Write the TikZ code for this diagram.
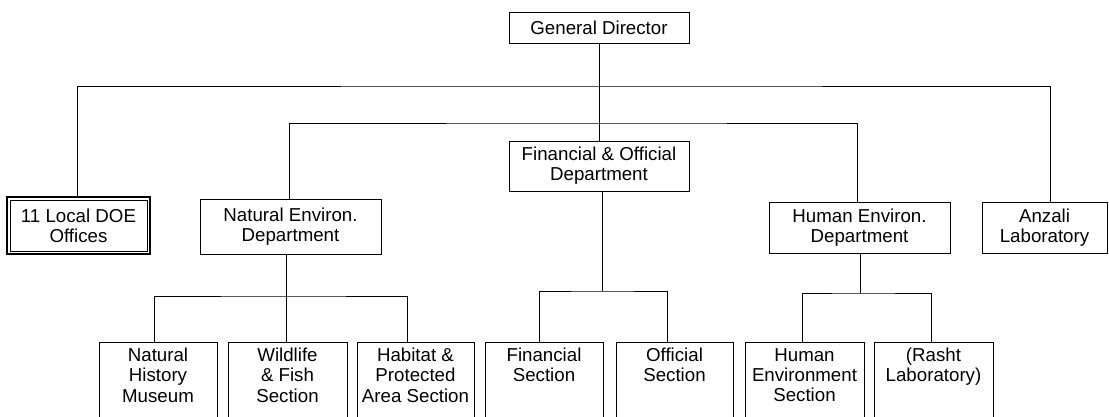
\documentclass[tikz,border=0pt]{standalone}
\usepackage{fontspec}
\setmainfont{Liberation Sans}
\newcommand\myfs{\fontsize{18.7}{20.2}\selectfont}
\tikzset{
  box/.style={draw, line width=1pt, inner sep=0pt, align=center, font=\myfs},
  botbox/.style={draw, line width=1pt, inner sep=0pt, anchor=north, minimum height=90pt},
  bottxt/.style={inner sep=0pt, anchor=north, align=center, font=\myfs, yshift=-6pt},
  conn/.style={line width=1pt}
}
\begin{document}
\begin{tikzpicture}[x=1pt,y=-1pt]
\clip (0,0) rectangle (1109,416);
\fill[white] (0,0) rectangle (1109,416);
% top level
\node[box, minimum width=180pt, minimum height=31pt] (GD) at (599,27.5) {General Director};
\node[box, minimum width=180pt, minimum height=50pt] (FO) at (599,166) {Financial \& Official\\Department};
\node[box, minimum width=181pt, minimum height=55pt] (NE) at (290.5,226.5) {Natural Environ.\\Department};
\node[box, minimum width=181pt, minimum height=51pt] (HE) at (859.5,227.5) {Human Environ.\\Department};
\node[box, minimum width=125pt, minimum height=51pt] (AZ) at (1044.5,227.5) {Anzali\\Laboratory};
\node[box, line width=2pt, minimum width=143pt, minimum height=57pt] (DOE) at (78.5,225.5) {11 Local DOE\\Offices};
\draw[line width=1pt] ([xshift=4.5pt,yshift=-4pt]DOE.north west) rectangle ([xshift=-4pt,yshift=4pt]DOE.south east);
% bottom boxes
\node[botbox, minimum width=118pt] (NHM) at (158,342) {};
\node[bottxt] (tNHM) at (NHM.north) {Natural\\History\\Museum};
\node[botbox, minimum width=119pt] (WF) at (287.5,342) {};
\node[bottxt] (tWF) at (WF.north) {Wildlife\\\& Fish\\Section};
\node[botbox, minimum width=117pt] (HP) at (415.5,342) {};
\node[bottxt] (tHP) at (HP.north) {Habitat \&\\Protected\\Area Section};
\node[botbox, minimum width=118pt] (FS) at (544,342) {};
\node[bottxt] (tFS) at (FS.north) {Financial\\Section};
\node[botbox, minimum width=117pt] (OS) at (674.5,342) {};
\node[bottxt] (tOS) at (OS.north) {Official\\Section};
\node[botbox, minimum width=119pt] (HES) at (804.5,342) {};
\node[bottxt] (tHES) at (HES.north) {Human\\Environment\\Section};
\node[botbox, minimum width=119pt] (RL) at (933.5,342) {};
\node[bottxt] (tRL) at (RL.north) {(Rasht\\Laboratory)};
% bus coordinates
\coordinate (t1) at (599,86);
\coordinate (t2) at (599,123);
\coordinate (n1) at (286,296);
\coordinate (f1) at (602,291);
\coordinate (h1) at (860,293);
% connectors
\draw[conn] (GD.south) -- (FO.north);
\draw[conn] ([xshift=-1.5pt]DOE.north) |- (t1) -| ([xshift=5.5pt]AZ.north);
\draw[conn] ([xshift=-1.5pt]NE.north) |- (t2) -| ([xshift=-2.5pt]HE.north);
\draw[conn] ([xshift=-4.5pt]NE.south) -- (n1);
\draw[conn] ([xshift=-4pt]NHM.north) |- (n1) -| ([xshift=-8.5pt]HP.north);
\draw[conn] (n1) -- ([xshift=-1.5pt]WF.north);
\draw[conn] ([xshift=3pt]FO.south) -- (f1);
\draw[conn] ([xshift=-5pt]FS.north) |- (f1) -| ([xshift=-7.5pt]OS.north);
\draw[conn] ([xshift=0.5pt]HE.south) -- (h1);
\draw[conn] ([xshift=-2.5pt]HES.north) |- (h1) -| ([xshift=-2.5pt]RL.north);
\end{tikzpicture}
\end{document}
